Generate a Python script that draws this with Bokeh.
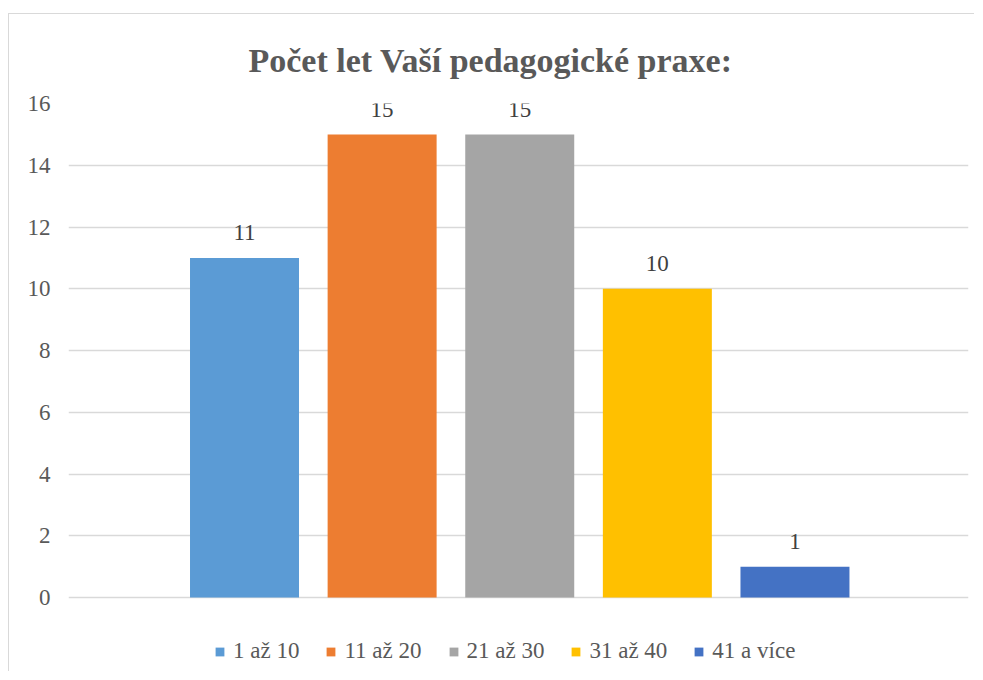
from bokeh.plotting import figure
from bokeh.models import ColumnDataSource, LabelSet, Legend, LegendItem, FixedTicker, Range1d
from bokeh.embed import file_html
from bokeh.resources import INLINE

categories = ["1 až 10", "11 až 20", "21 až 30", "31 až 40", "41 a více"]
values = [11, 15, 15, 10, 1]
colors = ["#5B9BD5", "#ED7D31", "#A5A5A5", "#FFC000", "#4472C4"]
y_ticks = [0, 2, 4, 6, 8, 10, 12, 14, 16]
title_text = "Počet let Vaší pedagogické praxe:"

FONT = "Liberation Serif"
positions = list(range(len(categories)))

# frame extends below zero to host the legend (no gridlines there)
p = figure(width=966, height=658, output_backend="svg", toolbar_location=None,
           x_range=Range1d(-1.279, 5.261), y_range=Range1d(-2.429, 16),
           min_border_left=59, min_border_right=7, min_border_top=89, min_border_bottom=0)
p.styles = {"margin-top": "13px", "margin-left": "8px",
            "border-top": "1px solid #d9d9d9", "border-left": "1px solid #d9d9d9"}

renderers = []
for i, (cat, val, col) in enumerate(zip(categories, values, colors)):
    src = ColumnDataSource(dict(x=[positions[i]], top=[val]))
    r = p.vbar(x="x", top="top", bottom=0, width=0.792, source=src, fill_color=col, line_color=None)
    renderers.append(r)

lab_src = ColumnDataSource(dict(x=positions, y=values, text=[str(v) for v in values]))
p.add_layout(LabelSet(x="x", y="y", text="text", source=lab_src, y_offset=25,
                      text_align="center", text_baseline="middle",
                      text_font=FONT, text_font_size="23px", text_color="#404040"))

p.title.text = title_text
p.title.align = "left"
p.title.offset = 180
p.title.standoff = 50
p.title.text_font = FONT
p.title.text_font_size = "34px"
p.title.text_font_style = "bold"
p.title.text_color = "#595959"

p.xaxis.visible = False
p.xgrid.grid_line_color = None
p.ygrid.ticker = FixedTicker(ticks=y_ticks)
p.ygrid.grid_line_color = "#d9d9d9"
p.ygrid.grid_line_width = 1.5
p.yaxis.ticker = FixedTicker(ticks=y_ticks)
p.yaxis.axis_line_color = None
p.yaxis.major_tick_line_color = None
p.yaxis.minor_tick_line_color = None
p.yaxis.major_tick_out = 0
p.yaxis.major_tick_in = 0
p.yaxis.major_label_standoff = 18
p.yaxis.major_label_text_font = FONT
p.yaxis.major_label_text_font_size = "23px"
p.yaxis.major_label_text_color = "#595959"
p.outline_line_color = None

legend = Legend(items=[LegendItem(label=c, renderers=[r]) for c, r in zip(categories, renderers)],
                orientation="horizontal", location=(146, 8),
                glyph_width=11, glyph_height=11, label_standoff=8, spacing=26,
                padding=0, margin=0, border_line_color=None, background_fill_alpha=0,
                label_text_font=FONT, label_text_font_size="23px", label_text_color="#595959")
p.add_layout(legend, "center")

open("out.html", "w").write(file_html(p, INLINE))
